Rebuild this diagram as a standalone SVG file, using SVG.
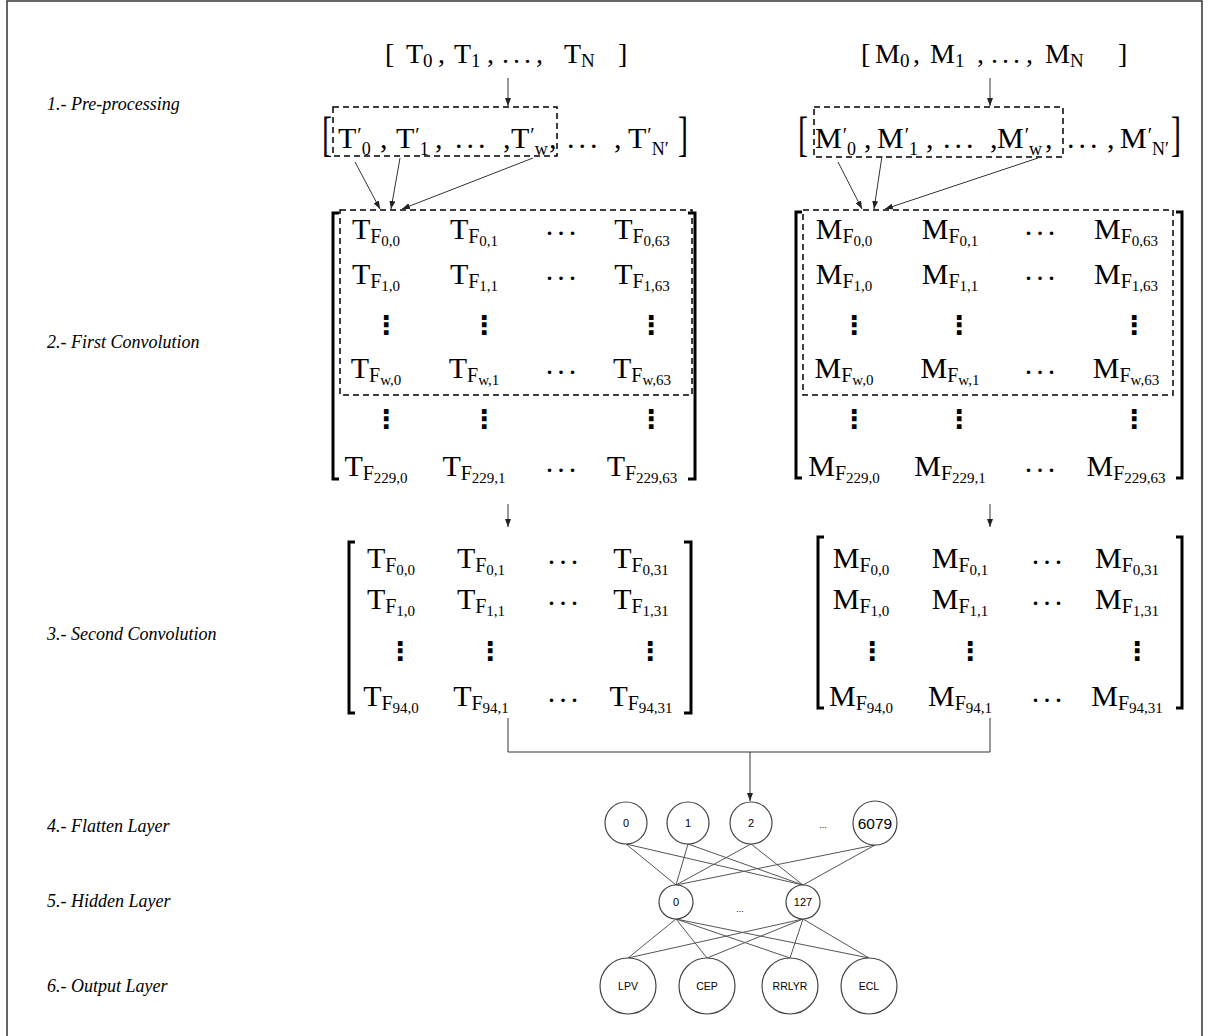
<svg xmlns="http://www.w3.org/2000/svg" width="1212" height="1036" viewBox="0 0 1212 1036">
<defs>
<marker id="ah" viewBox="0 0 8 6" refX="8" refY="3" markerWidth="8" markerHeight="6" markerUnits="userSpaceOnUse" orient="auto"><path d="M0,0 L8,3 L0,6 z" fill="#222"/></marker>
<style>
.lbl{font-family:"Liberation Serif","Times New Roman",serif;font-style:italic;font-size:18px;fill:#000}
.sr{font-family:"Liberation Serif","Times New Roman",serif;fill:#000}
.top{font-size:28px}
.tsub{font-size:19px}
.pr{font-size:30px}
.pbr{font-size:30px}
.psub{font-size:18px}
.pp{font-size:20px}
.e{font-family:"Liberation Serif","Times New Roman",serif;font-size:30px;text-anchor:middle;fill:#000}
.s1{font-size:20px}
.s2{font-size:15px}
.dots{font-family:"Liberation Serif","Times New Roman",serif;font-size:30px;letter-spacing:4px;text-anchor:middle;fill:#000}
.vd{font-family:"DejaVu Sans",sans-serif;font-size:26px;font-weight:bold;text-anchor:middle;fill:#000}
.nt{font-family:"Liberation Sans",Arial,sans-serif;text-anchor:middle;fill:#000}
.node{fill:#fff;stroke:#444;stroke-width:1.2}
.edge{stroke:#555;stroke-width:1;fill:none}
.dash{fill:none;stroke:#000;stroke-width:1.5;stroke-dasharray:6 4}
.br{fill:none;stroke:#000;stroke-width:3}
.arr{stroke:#333;stroke-width:1;fill:none;marker-end:url(#ah)}
.ln{stroke:#333;stroke-width:1;fill:none}
</style>
</defs>
<rect width="1212" height="1036" fill="#fff"/>
<path d="M7,1036 V1 H1202 V1036" fill="none" stroke="#333" stroke-width="1.5"/>

<g id="labels">
<text class="lbl" x="47" y="110">1.- Pre-processing</text>
<text class="lbl" x="47" y="348">2.- First Convolution</text>
<text class="lbl" x="47" y="640">3.- Second Convolution</text>
<text class="lbl" x="47" y="832">4.- Flatten Layer</text>
<text class="lbl" x="47" y="907">5.- Hidden Layer</text>
<text class="lbl" x="47" y="992">6.- Output Layer</text>
</g>

<g id="input-T">
<text class="sr top" x="385" y="63">[</text>
<text class="sr top" x="406" y="63">T<tspan class="tsub" dy="4">0</tspan></text>
<text class="sr top" x="438" y="63">,</text>
<text class="sr top" x="454" y="63">T<tspan class="tsub" dy="4">1</tspan></text>
<text class="sr top" x="487" y="63">,</text>
<text class="sr top" x="502" y="63" letter-spacing="4">...</text>
<text class="sr top" x="536" y="63">,</text>
<text class="sr top" x="564" y="63">T<tspan class="tsub" dy="4">N</tspan></text>
<text class="sr top" x="618" y="63">]</text>
</g>

<g id="input-M">
<text class="sr top" x="861" y="63">[</text>
<text class="sr top" x="875" y="63">M<tspan class="tsub" dy="4">0</tspan></text>
<text class="sr top" x="913" y="63">,</text>
<text class="sr top" x="930" y="63">M<tspan class="tsub" dy="4">1</tspan></text>
<text class="sr top" x="977" y="63">,</text>
<text class="sr top" x="991" y="63" letter-spacing="4">...</text>
<text class="sr top" x="1026" y="63">,</text>
<text class="sr top" x="1045" y="63">M<tspan class="tsub" dy="4">N</tspan></text>
<text class="sr top" x="1118" y="63">]</text>
</g>

<g id="pre-T">
<rect class="dash" x="333" y="107" width="224" height="49"/>
<text class="sr pbr" transform="translate(322,150) scale(1,1.6)">[</text>
<text class="sr pr" x="338" y="148">T<tspan class="pp" dx="1" dy="-6">′</tspan><tspan class="psub" dy="13">0</tspan></text>
<text class="sr pr" x="380" y="148">,</text>
<text class="sr pr" x="396" y="148">T<tspan class="pp" dx="1" dy="-6">′</tspan><tspan class="psub" dy="13">1</tspan></text>
<text class="sr pr" x="435" y="148">,</text>
<text class="sr pr" x="455" y="148" letter-spacing="4">...</text>
<text class="sr pr" x="503" y="148">,</text>
<text class="sr pr" x="511" y="148">T<tspan class="pp" dx="1" dy="-6">′</tspan><tspan class="psub" dy="13">w</tspan></text>
<text class="sr pr" x="549" y="148">,</text>
<text class="sr pr" x="567" y="148" letter-spacing="4">...</text>
<text class="sr pr" x="614" y="148">,</text>
<text class="sr pr" x="628" y="148">T<tspan class="pp" dx="1" dy="-6">′</tspan><tspan class="psub" dy="13">N′</tspan></text>
<text class="sr pbr" transform="translate(678,150) scale(1,1.6)">]</text>
</g>

<g id="pre-M">
<rect class="dash" x="814" y="107" width="249" height="50"/>
<text class="sr pbr" transform="translate(798,150) scale(1,1.6)">[</text>
<text class="sr pr" x="815" y="148">M<tspan class="pp" dx="1" dy="-6">′</tspan><tspan class="psub" dy="13">0</tspan></text>
<text class="sr pr" x="864" y="148">,</text>
<text class="sr pr" x="877" y="148">M<tspan class="pp" dx="1" dy="-6">′</tspan><tspan class="psub" dy="13">1</tspan></text>
<text class="sr pr" x="926" y="148">,</text>
<text class="sr pr" x="943" y="148" letter-spacing="4">...</text>
<text class="sr pr" x="990" y="148">,</text>
<text class="sr pr" x="997" y="148">M<tspan class="pp" dx="1" dy="-6">′</tspan><tspan class="psub" dy="13">w</tspan></text>
<text class="sr pr" x="1045" y="148">,</text>
<text class="sr pr" x="1067" y="148" letter-spacing="4">...</text>
<text class="sr pr" x="1107" y="148">,</text>
<text class="sr pr" x="1120" y="148">M<tspan class="pp" dx="1" dy="-6">′</tspan><tspan class="psub" dy="13">N′</tspan></text>
<text class="sr pbr" transform="translate(1171,150) scale(1,1.6)">]</text>
</g>

<g id="conv1-T">
<rect class="dash" x="340" y="210" width="352" height="185"/>
<path class="br" d="M339,213 H333 V479 H339"/>
<path class="br" d="M688,213 H695 V479 H688"/>
<text class="e" x="376" y="239">T<tspan class="s1" dy="4">F</tspan><tspan class="s2" dy="3">0,0</tspan></text>
<text class="e" x="474" y="239">T<tspan class="s1" dy="4">F</tspan><tspan class="s2" dy="3">0,1</tspan></text>
<text class="dots" x="563" y="235">...</text>
<text class="e" x="642" y="239">T<tspan class="s1" dy="4">F</tspan><tspan class="s2" dy="3">0,63</tspan></text>
<text class="e" x="376" y="284">T<tspan class="s1" dy="4">F</tspan><tspan class="s2" dy="3">1,0</tspan></text>
<text class="e" x="474" y="284">T<tspan class="s1" dy="4">F</tspan><tspan class="s2" dy="3">1,1</tspan></text>
<text class="dots" x="563" y="280">...</text>
<text class="e" x="642" y="284">T<tspan class="s1" dy="4">F</tspan><tspan class="s2" dy="3">1,63</tspan></text>
<text class="vd" x="386" y="334">⋮</text>
<text class="vd" x="484" y="334">⋮</text>
<text class="vd" x="651" y="334">⋮</text>
<text class="e" x="376" y="378">T<tspan class="s1" dy="4">F</tspan><tspan class="s2" dy="3">w,0</tspan></text>
<text class="e" x="474" y="378">T<tspan class="s1" dy="4">F</tspan><tspan class="s2" dy="3">w,1</tspan></text>
<text class="dots" x="563" y="374">...</text>
<text class="e" x="642" y="378">T<tspan class="s1" dy="4">F</tspan><tspan class="s2" dy="3">w,63</tspan></text>
<text class="vd" x="386" y="428">⋮</text>
<text class="vd" x="484" y="428">⋮</text>
<text class="vd" x="651" y="428">⋮</text>
<text class="e" x="376" y="476">T<tspan class="s1" dy="4">F</tspan><tspan class="s2" dy="3">229,0</tspan></text>
<text class="e" x="474" y="476">T<tspan class="s1" dy="4">F</tspan><tspan class="s2" dy="3">229,1</tspan></text>
<text class="dots" x="563" y="472">...</text>
<text class="e" x="642" y="476">T<tspan class="s1" dy="4">F</tspan><tspan class="s2" dy="3">229,63</tspan></text>
</g>

<g id="conv1-M">
<rect class="dash" x="803" y="210" width="370" height="185"/>
<path class="br" d="M802,212 H796 V478 H802"/>
<path class="br" d="M1176,212 H1182 V478 H1176"/>
<text class="e" x="844" y="239">M<tspan class="s1" dy="4">F</tspan><tspan class="s2" dy="3">0,0</tspan></text>
<text class="e" x="950" y="239">M<tspan class="s1" dy="4">F</tspan><tspan class="s2" dy="3">0,1</tspan></text>
<text class="dots" x="1042" y="235">...</text>
<text class="e" x="1126" y="239">M<tspan class="s1" dy="4">F</tspan><tspan class="s2" dy="3">0,63</tspan></text>
<text class="e" x="844" y="284">M<tspan class="s1" dy="4">F</tspan><tspan class="s2" dy="3">1,0</tspan></text>
<text class="e" x="950" y="284">M<tspan class="s1" dy="4">F</tspan><tspan class="s2" dy="3">1,1</tspan></text>
<text class="dots" x="1042" y="280">...</text>
<text class="e" x="1126" y="284">M<tspan class="s1" dy="4">F</tspan><tspan class="s2" dy="3">1,63</tspan></text>
<text class="vd" x="854" y="334">⋮</text>
<text class="vd" x="959" y="334">⋮</text>
<text class="vd" x="1134" y="334">⋮</text>
<text class="e" x="844" y="378">M<tspan class="s1" dy="4">F</tspan><tspan class="s2" dy="3">w,0</tspan></text>
<text class="e" x="950" y="378">M<tspan class="s1" dy="4">F</tspan><tspan class="s2" dy="3">w,1</tspan></text>
<text class="dots" x="1042" y="374">...</text>
<text class="e" x="1126" y="378">M<tspan class="s1" dy="4">F</tspan><tspan class="s2" dy="3">w,63</tspan></text>
<text class="vd" x="854" y="428">⋮</text>
<text class="vd" x="959" y="428">⋮</text>
<text class="vd" x="1134" y="428">⋮</text>
<text class="e" x="844" y="476">M<tspan class="s1" dy="4">F</tspan><tspan class="s2" dy="3">229,0</tspan></text>
<text class="e" x="950" y="476">M<tspan class="s1" dy="4">F</tspan><tspan class="s2" dy="3">229,1</tspan></text>
<text class="dots" x="1042" y="472">...</text>
<text class="e" x="1126" y="476">M<tspan class="s1" dy="4">F</tspan><tspan class="s2" dy="3">229,63</tspan></text>
</g>

<g id="conv2-T">
<path class="br" d="M355,542 H349 V713 H355"/>
<path class="br" d="M684,542 H691 V713 H684"/>
<text class="e" x="391" y="568">T<tspan class="s1" dy="4">F</tspan><tspan class="s2" dy="3">0,0</tspan></text>
<text class="e" x="481" y="568">T<tspan class="s1" dy="4">F</tspan><tspan class="s2" dy="3">0,1</tspan></text>
<text class="dots" x="565" y="564">...</text>
<text class="e" x="641" y="568">T<tspan class="s1" dy="4">F</tspan><tspan class="s2" dy="3">0,31</tspan></text>
<text class="e" x="391" y="609">T<tspan class="s1" dy="4">F</tspan><tspan class="s2" dy="3">1,0</tspan></text>
<text class="e" x="481" y="609">T<tspan class="s1" dy="4">F</tspan><tspan class="s2" dy="3">1,1</tspan></text>
<text class="dots" x="565" y="605">...</text>
<text class="e" x="641" y="609">T<tspan class="s1" dy="4">F</tspan><tspan class="s2" dy="3">1,31</tspan></text>
<text class="vd" x="400" y="660">⋮</text>
<text class="vd" x="490" y="660">⋮</text>
<text class="vd" x="650" y="660">⋮</text>
<text class="e" x="391" y="706">T<tspan class="s1" dy="4">F</tspan><tspan class="s2" dy="3">94,0</tspan></text>
<text class="e" x="481" y="706">T<tspan class="s1" dy="4">F</tspan><tspan class="s2" dy="3">94,1</tspan></text>
<text class="dots" x="565" y="702">...</text>
<text class="e" x="641" y="706">T<tspan class="s1" dy="4">F</tspan><tspan class="s2" dy="3">94,31</tspan></text>
</g>

<g id="conv2-M">
<path class="br" d="M824,537 H818 V708 H824"/>
<path class="br" d="M1176,537 H1182 V708 H1176"/>
<text class="e" x="861" y="568">M<tspan class="s1" dy="4">F</tspan><tspan class="s2" dy="3">0,0</tspan></text>
<text class="e" x="960" y="568">M<tspan class="s1" dy="4">F</tspan><tspan class="s2" dy="3">0,1</tspan></text>
<text class="dots" x="1049" y="564">...</text>
<text class="e" x="1127" y="568">M<tspan class="s1" dy="4">F</tspan><tspan class="s2" dy="3">0,31</tspan></text>
<text class="e" x="861" y="609">M<tspan class="s1" dy="4">F</tspan><tspan class="s2" dy="3">1,0</tspan></text>
<text class="e" x="960" y="609">M<tspan class="s1" dy="4">F</tspan><tspan class="s2" dy="3">1,1</tspan></text>
<text class="dots" x="1049" y="605">...</text>
<text class="e" x="1127" y="609">M<tspan class="s1" dy="4">F</tspan><tspan class="s2" dy="3">1,31</tspan></text>
<text class="vd" x="872" y="660">⋮</text>
<text class="vd" x="970" y="660">⋮</text>
<text class="vd" x="1137" y="660">⋮</text>
<text class="e" x="861" y="706">M<tspan class="s1" dy="4">F</tspan><tspan class="s2" dy="3">94,0</tspan></text>
<text class="e" x="960" y="706">M<tspan class="s1" dy="4">F</tspan><tspan class="s2" dy="3">94,1</tspan></text>
<text class="dots" x="1049" y="702">...</text>
<text class="e" x="1127" y="706">M<tspan class="s1" dy="4">F</tspan><tspan class="s2" dy="3">94,31</tspan></text>
</g>

<g id="connectors">
<path class="arr" d="M508,78 V106"/>
<path class="arr" d="M990,78 V106"/>
<path class="arr" d="M355,162 L380,209"/>
<path class="arr" d="M400,158 L391,209"/>
<path class="arr" d="M533,158 L402,209"/>
<path class="arr" d="M838,162 L862,209"/>
<path class="arr" d="M882,156 L874,209"/>
<path class="arr" d="M1038,158 L885,209"/>
<path class="arr" d="M508,504 V527"/>
<path class="arr" d="M990,504 V527"/>
<path class="ln" d="M508,718 V752 H990 V718"/>
<path class="arr" d="M750,752 V801"/>
<g class="edge">
<path d="M626,844 L676,885"/><path d="M626,844 L803,885"/>
<path d="M688,844 L676,885"/><path d="M688,844 L803,885"/>
<path d="M751,844 L676,885"/><path d="M751,844 L803,885"/>
<path d="M875,845 L676,885"/><path d="M875,845 L803,885"/>
<path d="M676,919 L628,958"/><path d="M676,919 L707,958"/><path d="M676,919 L790,958"/><path d="M676,919 L869,958"/>
<path d="M803,919 L628,958"/><path d="M803,919 L707,958"/><path d="M803,919 L790,958"/><path d="M803,919 L869,958"/>
</g>
</g>

<g id="flat-0"><circle class="node" cx="626" cy="823" r="21"/><text class="nt" x="626" y="827" font-size="11">0</text></g>
<g id="flat-1"><circle class="node" cx="688" cy="823" r="21"/><text class="nt" x="688" y="827" font-size="11">1</text></g>
<g id="flat-2"><circle class="node" cx="751" cy="823" r="21"/><text class="nt" x="751" y="827" font-size="11">2</text></g>
<g id="flat-dots"><text class="nt" x="823" y="828" font-size="9">...</text></g>
<g id="flat-6079"><circle class="node" cx="875" cy="823" r="22"/><text class="nt" x="875" y="829" font-size="15.5">6079</text></g>

<g id="hid-0"><circle class="node" cx="676" cy="902" r="17"/><text class="nt" x="676" y="906" font-size="11">0</text></g>
<g id="hid-dots"><text class="nt" x="740" y="912" font-size="9">...</text></g>
<g id="hid-127"><circle class="node" cx="803" cy="902" r="17"/><text class="nt" x="803" y="906" font-size="11">127</text></g>

<g id="out-LPV"><circle class="node" cx="628" cy="986" r="28"/><text class="nt" x="628" y="990" font-size="10.5">LPV</text></g>
<g id="out-CEP"><circle class="node" cx="707" cy="986" r="28"/><text class="nt" x="707" y="990" font-size="10.5">CEP</text></g>
<g id="out-RRLYR"><circle class="node" cx="790" cy="986" r="28"/><text class="nt" x="790" y="990" font-size="10.5">RRLYR</text></g>
<g id="out-ECL"><circle class="node" cx="869" cy="986" r="28"/><text class="nt" x="869" y="990" font-size="10.5">ECL</text></g>
</svg>
